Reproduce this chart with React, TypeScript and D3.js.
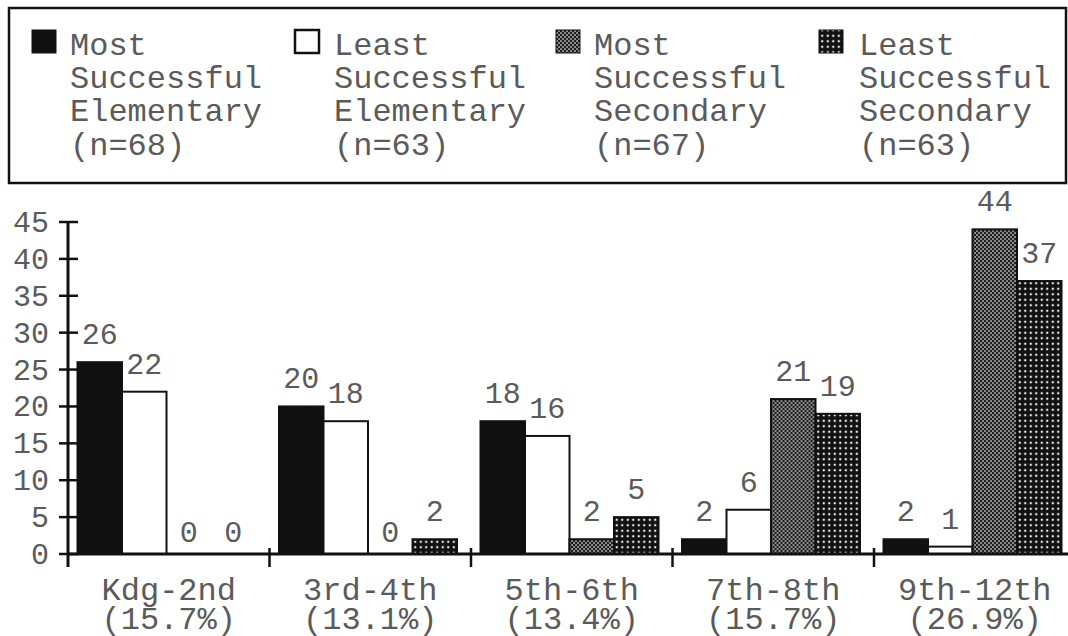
import React from 'react';
import * as d3 from 'd3';

const categories = ['Kdg-2nd', '3rd-4th', '5th-6th', '7th-8th', '9th-12th'];
const categoryPct = ['(15.7%)', '(13.1%)', '(13.4%)', '(15.7%)', '(26.9%)'];
const seriesKeys = ['mse', 'lse', 'mss', 'lss'];
const seriesLabels = [
  ['Most', 'Successful', 'Elementary', '(n=68)'],
  ['Least', 'Successful', 'Elementary', '(n=63)'],
  ['Most', 'Successful', 'Secondary', '(n=67)'],
  ['Least', 'Successful', 'Secondary', '(n=63)'],
];
const mostElementary = [26, 20, 18, 2, 2];
const leastElementary = [22, 18, 16, 6, 1];
const mostSecondary = [0, 0, 2, 21, 44];
const leastSecondary = [0, 2, 5, 19, 37];
const seriesValues = [mostElementary, leastElementary, mostSecondary, leastSecondary];
const yTicks = [0, 5, 10, 15, 20, 25, 30, 35, 40, 45];

const W = 1068;
const H = 636;
const FONT = "'Liberation Mono', 'Courier New', monospace";
const TEXT = '#5a5a5a';
const INK = '#111';

const fills = ['#111', '#fff', 'url(#pMSS)', 'url(#pLSS)'];

export default function App() {
  const x0 = d3.scaleBand<string>().domain(categories).range([68, 1075.5]).padding(0);
  const x1 = d3.scaleBand<string>().domain(seriesKeys).range([9.5, 187.5]).padding(0);
  const y = d3.scaleLinear().domain([0, 45]).range([554, 222]);
  const baseY = y(0);
  const legendTextX = [70, 334, 594, 859];
  const legendSwatchX = [32, 295, 556, 819];

  return (
    <svg width={W} height={H} style={{ position: 'absolute', left: 0, top: 0, background: '#fff' }}>
      <defs>
        <pattern id="pMSS" width="4" height="4" patternUnits="userSpaceOnUse">
          <rect width="4" height="4" fill="#1e1e1e" />
          <rect x="0.3" y="0.3" width="1.5" height="1.5" fill="#dcdcdc" />
          <rect x="2.3" y="2.3" width="1.5" height="1.5" fill="#dcdcdc" />
        </pattern>
        <pattern id="pLSS" width="5.5" height="5.5" patternUnits="userSpaceOnUse">
          <rect width="5.5" height="5.5" fill="#111" />
          <rect x="1.7" y="1.7" width="2.1" height="2.1" fill="#eeeeee" />
        </pattern>
      </defs>
      <rect width={W} height={H} fill="#fff" />

      {/* Legend */}
      <rect x={9} y={8} width={1057} height={175} fill="none" stroke={INK} strokeWidth={2.5} />
      {seriesKeys.map((k, i) => (
        <g key={k}>
          <rect
            x={legendSwatchX[i]}
            y={30}
            width={24}
            height={23}
            fill={fills[i]}
            stroke={INK}
            strokeWidth={i === 1 ? 2.5 : 1}
          />
          {seriesLabels[i].map((t, j) => (
            <text key={j} x={legendTextX[i]} y={55 + j * 33.2} fontFamily={FONT} fontSize={32} fill={TEXT}>
              {t}
            </text>
          ))}
        </g>
      ))}

      {/* Bars */}
      {categories.map((c, ci) => (
        <g key={c} transform={`translate(${x0(c)},0)`}>
          {seriesKeys.map((k, si) => {
            const v = seriesValues[si][ci];
            const bx = x1(k) as number;
            const bw = x1.bandwidth();
            return (
              <g key={k}>
                {v > 0 && (
                  <rect
                    x={bx}
                    y={y(v)}
                    width={bw}
                    height={baseY - y(v)}
                    fill={fills[si]}
                    stroke={INK}
                    strokeWidth={2}
                  />
                )}
                <text
                  x={bx + bw / 2}
                  y={y(v) - (v > 0 ? 18 : 12)}
                  textAnchor="middle"
                  fontFamily={FONT}
                  fontSize={30}
                  fill={TEXT}
                >
                  {v}
                </text>
              </g>
            );
          })}
          <text x={x0.bandwidth() / 2} y={600} textAnchor="middle" fontFamily={FONT} fontSize={32} fill={TEXT}>
            {c}
          </text>
          <text x={x0.bandwidth() / 2} y={629} textAnchor="middle" fontFamily={FONT} fontSize={32} fill={TEXT}>
            {categoryPct[ci]}
          </text>
        </g>
      ))}

      {/* X axis */}
      <line x1={68} x2={W} y1={baseY} y2={baseY} stroke={INK} strokeWidth={3} />
      {categories.slice(1).map((c) => (
        <line key={c} x1={x0(c)} x2={x0(c)} y1={baseY - 6} y2={baseY + 13} stroke={INK} strokeWidth={2.5} />
      ))}

      {/* Y axis */}
      <line x1={68} x2={68} y1={y(45)} y2={baseY + 13} stroke={INK} strokeWidth={3} />
      {yTicks.map((t) => (
        <g key={t}>
          <line x1={59} x2={78} y1={y(t)} y2={y(t)} stroke={INK} strokeWidth={2.5} />
          <text x={49} y={y(t) + 10} textAnchor="end" fontFamily={FONT} fontSize={30} fill={TEXT}>
            {t}
          </text>
        </g>
      ))}
    </svg>
  );
}
